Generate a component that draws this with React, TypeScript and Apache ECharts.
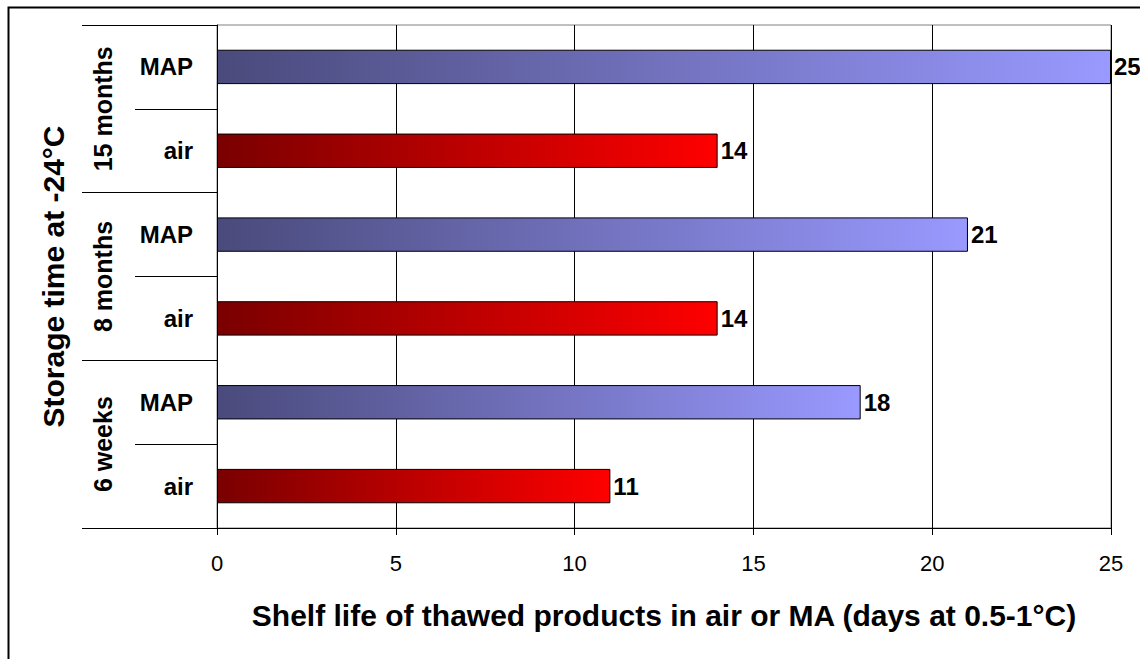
import React, { useEffect, useRef } from "react";
import * as echarts from "echarts";

const groups = ["6 weeks", "8 months", "15 months"];
const packTypes = ["air", "MAP"];
const airValues = [11, 14, 14];
const mapValues = [18, 21, 25];
const xTicks = { min: 0, max: 25, interval: 5 };
const xTitle = "Shelf life of thawed products in air or MA (days at 0.5-1°C)";
const yTitle = "Storage time at -24°C";

const FONT = "'Liberation Sans', Arial, Helvetica, sans-serif";

export default function App() {
  const ref = useRef<HTMLDivElement>(null);
  useEffect(() => {
    document.body.style.margin = "0";
    if (!ref.current) return;
    const chart = echarts.init(ref.current, null, { renderer: "svg" });

    const airGrad = () =>
      new echarts.graphic.LinearGradient(0, 0, 1, 0, [
        { offset: 0, color: "#7a0000" },
        { offset: 1, color: "#ff0000" },
      ]);
    const mapGrad = () =>
      new echarts.graphic.LinearGradient(0, 0, 1, 0, [
        { offset: 0, color: "#4a4a7c" },
        { offset: 1, color: "#9999ff" },
      ]);

    const categories: string[] = [];
    const data: any[] = [];
    groups.forEach((g, i) => {
      categories.push(packTypes[0]);
      data.push({ value: airValues[i], itemStyle: { color: airGrad() } });
      categories.push(packTypes[1]);
      data.push({ value: mapValues[i], itemStyle: { color: mapGrad() } });
    });

    chart.setOption({
      animation: false,
      backgroundColor: "#ffffff",
      textStyle: { fontFamily: FONT },
      graphic: [
        {
          type: "rect",
          left: 6,
          top: 5,
          shape: { x: 0, y: 0, width: 1160, height: 680 },
          style: { fill: "none", stroke: "#000", lineWidth: 2 },
          silent: true,
          z: 100,
        },
      ],
      grid: {
        left: 217,
        right: 29,
        top: 25,
        bottom: 131,
        show: true,
        borderColor: "#808080",
        borderWidth: 1,
        backgroundColor: "transparent",
      },
      xAxis: {
        type: "value",
        min: xTicks.min,
        max: xTicks.max,
        interval: xTicks.interval,
        axisLine: { show: true, lineStyle: { color: "#000", width: 1 } },
        axisTick: { show: true, length: 7, lineStyle: { color: "#000" } },
        splitLine: { show: true, lineStyle: { color: "#000", width: 1 } },
        axisLabel: { color: "#000", fontSize: 22, margin: 24, fontFamily: FONT },
        name: xTitle,
        nameLocation: "middle",
        nameGap: 72,
        nameTextStyle: { color: "#000", fontSize: 30, fontWeight: "bold", fontFamily: FONT },
      },
      yAxis: [
        {
          type: "category",
          data: categories,
          position: "left",
          axisLine: { show: true, onZero: false, lineStyle: { color: "#000", width: 1 } },
          axisTick: { show: true, length: 82, lineStyle: { color: "#000", width: 1 } },
          axisLabel: {
            color: "#000",
            fontSize: 24,
            fontWeight: "bold",
            margin: 24,
            interval: 0,
            fontFamily: FONT,
          },
          splitLine: { show: false },
        },
        {
          type: "category",
          data: groups,
          position: "left",
          offset: 0,
          axisLine: { show: false },
          axisTick: { show: true, length: 135, lineStyle: { color: "#000", width: 1 } },
          axisLabel: {
            color: "#000",
            fontSize: 25,
            fontWeight: "bold",
            rotate: 90,
            margin: 102,
            interval: 0,
            fontFamily: FONT,
          },
          splitLine: { show: false },
          name: yTitle,
          nameLocation: "middle",
          nameGap: 149,
          nameTextStyle: { color: "#000", fontSize: 30, fontWeight: "bold", fontFamily: FONT },
        },
      ],
      series: [
        {
          type: "bar",
          yAxisIndex: 0,
          data,
          barCategoryGap: "59%",
          itemStyle: { borderColor: "#000", borderWidth: 1 },
          label: {
            show: true,
            position: "right",
            distance: 3,
            color: "#000",
            fontSize: 24,
            fontWeight: "bold",
            fontFamily: FONT,
          },
        },
      ],
    });
    return () => chart.dispose();
  }, []);
  return <div ref={ref} style={{ width: 1140, height: 659 }} />;
}
